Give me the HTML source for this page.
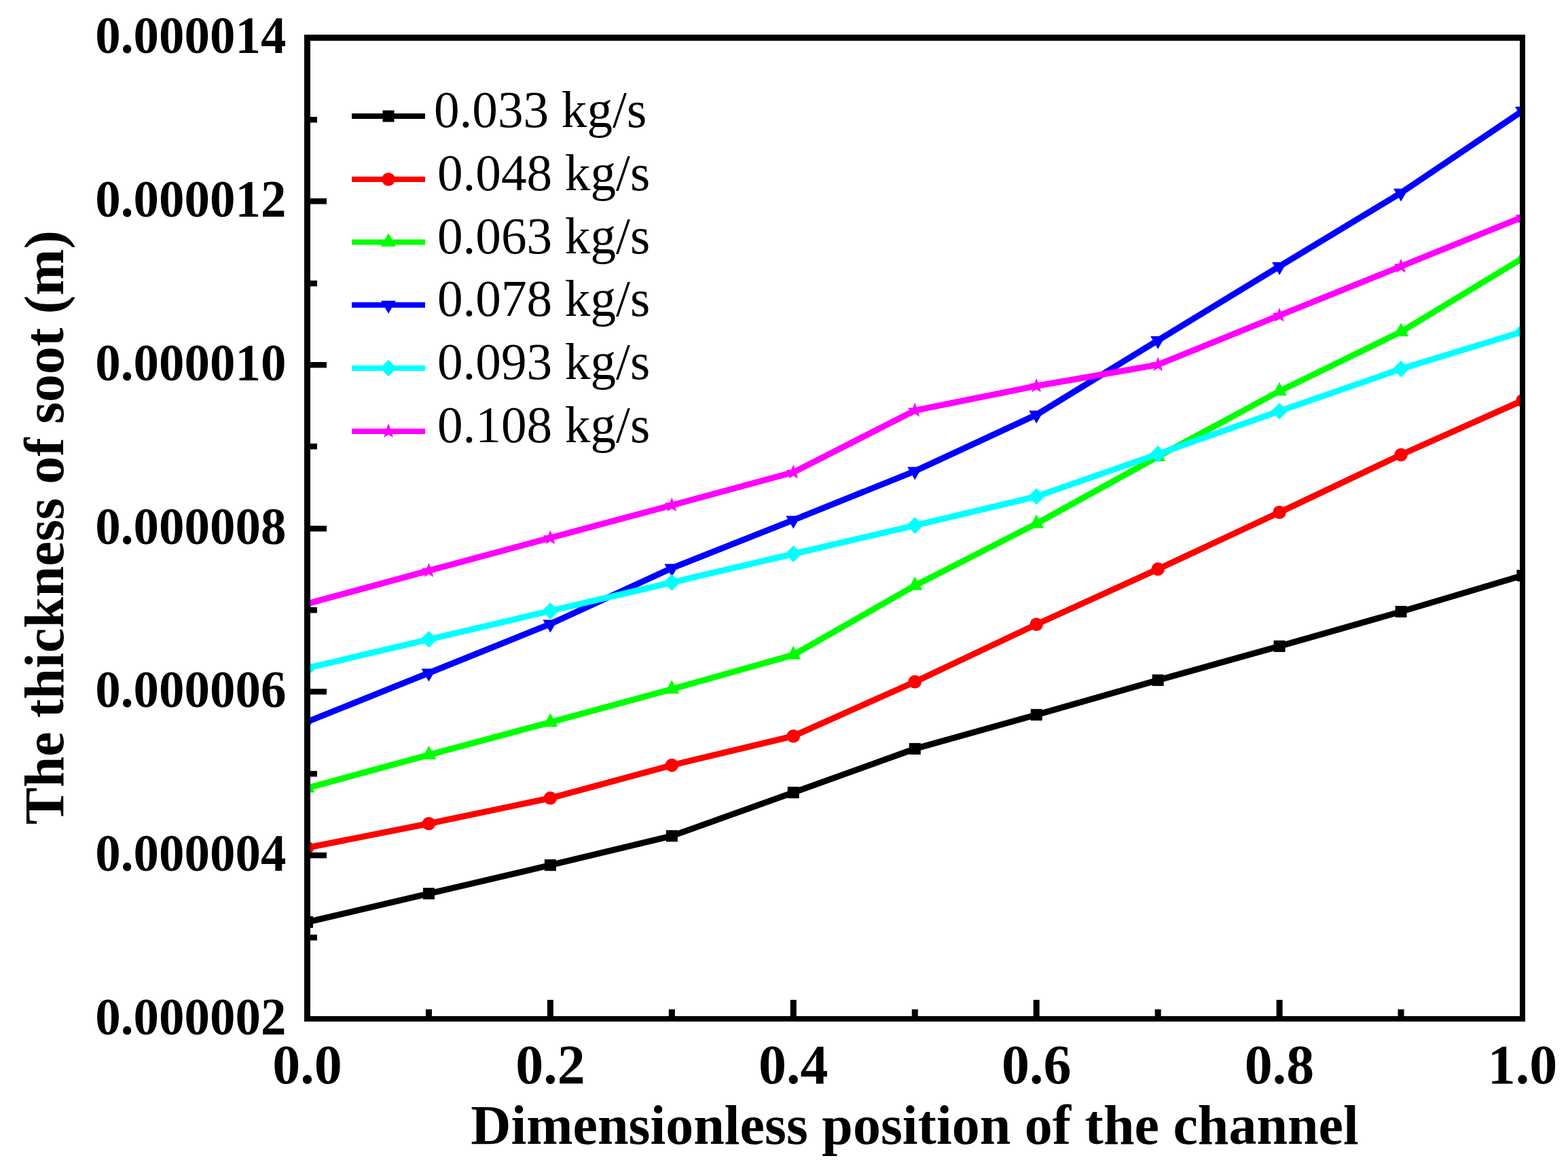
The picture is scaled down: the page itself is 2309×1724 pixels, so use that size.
<!DOCTYPE html>
<html><head><meta charset="utf-8"><style>
html,body{margin:0;padding:0;background:#fff;}
svg{display:block;}
text{font-family:"Liberation Serif","Times New Roman",serif;fill:#000;}
.tl text{font-weight:bold;font-size:75px;}
.xl text{font-weight:bold;font-size:82px;}
.at{font-weight:bold;font-size:82px;}
.lg{font-size:75.2px;}
</style></head><body>
<svg width="2309" height="1724" viewBox="0 0 2309 1724">
<rect width="2309" height="1724" fill="#fff"/>
<defs><clipPath id="pc"><rect x="452.5" y="55.5" width="1789.5" height="1444.5"/></clipPath></defs>
<g clip-path="url(#pc)">
<polyline points="452.50,1357.50 631.45,1315.60 810.40,1273.70 989.35,1230.70 1168.30,1166.80 1347.25,1102.40 1526.20,1052.30 1705.15,1001.40 1884.10,951.40 2063.05,900.50 2242.00,847.40" fill="none" stroke="#000000" stroke-width="9" stroke-linejoin="miter" stroke-miterlimit="3"/>
<rect x="444.00" y="1349.00" width="17.0" height="17.0" fill="#000000"/>
<rect x="622.95" y="1307.10" width="17.0" height="17.0" fill="#000000"/>
<rect x="801.90" y="1265.20" width="17.0" height="17.0" fill="#000000"/>
<rect x="980.85" y="1222.20" width="17.0" height="17.0" fill="#000000"/>
<rect x="1159.80" y="1158.30" width="17.0" height="17.0" fill="#000000"/>
<rect x="1338.75" y="1093.90" width="17.0" height="17.0" fill="#000000"/>
<rect x="1517.70" y="1043.80" width="17.0" height="17.0" fill="#000000"/>
<rect x="1696.65" y="992.90" width="17.0" height="17.0" fill="#000000"/>
<rect x="1875.60" y="942.90" width="17.0" height="17.0" fill="#000000"/>
<rect x="2054.55" y="892.00" width="17.0" height="17.0" fill="#000000"/>
<rect x="2233.50" y="838.90" width="17.0" height="17.0" fill="#000000"/>
<polyline points="452.50,1248.00 631.45,1212.50 810.40,1175.00 989.35,1126.60 1168.30,1083.70 1347.25,1003.80 1526.20,919.30 1705.15,837.90 1884.10,754.30 2063.05,669.50 2242.00,589.70" fill="none" stroke="#FF0000" stroke-width="9" stroke-linejoin="miter" stroke-miterlimit="3"/>
<circle cx="452.50" cy="1248.00" r="9.8" fill="#FF0000"/>
<circle cx="631.45" cy="1212.50" r="9.8" fill="#FF0000"/>
<circle cx="810.40" cy="1175.00" r="9.8" fill="#FF0000"/>
<circle cx="989.35" cy="1126.60" r="9.8" fill="#FF0000"/>
<circle cx="1168.30" cy="1083.70" r="9.8" fill="#FF0000"/>
<circle cx="1347.25" cy="1003.80" r="9.8" fill="#FF0000"/>
<circle cx="1526.20" cy="919.30" r="9.8" fill="#FF0000"/>
<circle cx="1705.15" cy="837.90" r="9.8" fill="#FF0000"/>
<circle cx="1884.10" cy="754.30" r="9.8" fill="#FF0000"/>
<circle cx="2063.05" cy="669.50" r="9.8" fill="#FF0000"/>
<circle cx="2242.00" cy="589.70" r="9.8" fill="#FF0000"/>
<polyline points="452.50,1160.20 631.45,1111.30 810.40,1063.30 989.35,1014.60 1168.30,964.20 1347.25,862.20 1526.20,770.90 1705.15,672.30 1884.10,575.90 2063.05,488.60 2242.00,380.30" fill="none" stroke="#00FF00" stroke-width="9" stroke-linejoin="miter" stroke-miterlimit="3"/>
<polygon points="452.50,1146.80 463.50,1166.80 441.50,1166.80" fill="#00FF00"/>
<polygon points="631.45,1097.90 642.45,1117.90 620.45,1117.90" fill="#00FF00"/>
<polygon points="810.40,1049.90 821.40,1069.90 799.40,1069.90" fill="#00FF00"/>
<polygon points="989.35,1001.20 1000.35,1021.20 978.35,1021.20" fill="#00FF00"/>
<polygon points="1168.30,950.80 1179.30,970.80 1157.30,970.80" fill="#00FF00"/>
<polygon points="1347.25,848.80 1358.25,868.80 1336.25,868.80" fill="#00FF00"/>
<polygon points="1526.20,757.50 1537.20,777.50 1515.20,777.50" fill="#00FF00"/>
<polygon points="1705.15,658.90 1716.15,678.90 1694.15,678.90" fill="#00FF00"/>
<polygon points="1884.10,562.50 1895.10,582.50 1873.10,582.50" fill="#00FF00"/>
<polygon points="2063.05,475.20 2074.05,495.20 2052.05,495.20" fill="#00FF00"/>
<polygon points="2242.00,366.90 2253.00,386.90 2231.00,386.90" fill="#00FF00"/>
<polyline points="452.50,1062.60 631.45,990.70 810.40,918.70 989.35,836.40 1168.30,765.60 1347.25,693.70 1526.20,610.70 1705.15,501.10 1884.10,392.20 2063.05,284.00 2242.00,163.20" fill="none" stroke="#0000FF" stroke-width="9" stroke-linejoin="miter" stroke-miterlimit="3"/>
<polygon points="452.50,1075.40 463.50,1056.40 441.50,1056.40" fill="#0000FF"/>
<polygon points="631.45,1003.50 642.45,984.50 620.45,984.50" fill="#0000FF"/>
<polygon points="810.40,931.50 821.40,912.50 799.40,912.50" fill="#0000FF"/>
<polygon points="989.35,849.20 1000.35,830.20 978.35,830.20" fill="#0000FF"/>
<polygon points="1168.30,778.40 1179.30,759.40 1157.30,759.40" fill="#0000FF"/>
<polygon points="1347.25,706.50 1358.25,687.50 1336.25,687.50" fill="#0000FF"/>
<polygon points="1526.20,623.50 1537.20,604.50 1515.20,604.50" fill="#0000FF"/>
<polygon points="1705.15,513.90 1716.15,494.90 1694.15,494.90" fill="#0000FF"/>
<polygon points="1884.10,405.00 1895.10,386.00 1873.10,386.00" fill="#0000FF"/>
<polygon points="2063.05,296.80 2074.05,277.80 2052.05,277.80" fill="#0000FF"/>
<polygon points="2242.00,176.00 2253.00,157.00 2231.00,157.00" fill="#0000FF"/>
<polyline points="452.50,983.60 631.45,941.30 810.40,899.40 989.35,857.50 1168.30,815.50 1347.25,773.60 1526.20,731.00 1705.15,668.40 1884.10,605.20 2063.05,543.10 2242.00,488.30" fill="none" stroke="#00FFFF" stroke-width="9" stroke-linejoin="miter" stroke-miterlimit="3"/>
<polygon points="452.50,971.30 464.80,983.60 452.50,995.90 440.20,983.60" fill="#00FFFF"/>
<polygon points="631.45,929.00 643.75,941.30 631.45,953.60 619.15,941.30" fill="#00FFFF"/>
<polygon points="810.40,887.10 822.70,899.40 810.40,911.70 798.10,899.40" fill="#00FFFF"/>
<polygon points="989.35,845.20 1001.65,857.50 989.35,869.80 977.05,857.50" fill="#00FFFF"/>
<polygon points="1168.30,803.20 1180.60,815.50 1168.30,827.80 1156.00,815.50" fill="#00FFFF"/>
<polygon points="1347.25,761.30 1359.55,773.60 1347.25,785.90 1334.95,773.60" fill="#00FFFF"/>
<polygon points="1526.20,718.70 1538.50,731.00 1526.20,743.30 1513.90,731.00" fill="#00FFFF"/>
<polygon points="1705.15,656.10 1717.45,668.40 1705.15,680.70 1692.85,668.40" fill="#00FFFF"/>
<polygon points="1884.10,592.90 1896.40,605.20 1884.10,617.50 1871.80,605.20" fill="#00FFFF"/>
<polygon points="2063.05,530.80 2075.35,543.10 2063.05,555.40 2050.75,543.10" fill="#00FFFF"/>
<polygon points="2242.00,476.00 2254.30,488.30 2242.00,500.60 2229.70,488.30" fill="#00FFFF"/>
<polyline points="452.50,888.80 631.45,840.20 810.40,791.90 989.35,743.80 1168.30,695.40 1347.25,604.30 1526.20,568.20 1705.15,537.00 1884.10,464.40 2063.05,392.20 2242.00,319.70" fill="none" stroke="#FF00FF" stroke-width="9" stroke-linejoin="miter" stroke-miterlimit="3"/>
<polygon points="452.50,877.40 455.44,884.75 463.34,885.28 457.26,890.35 459.20,898.02 452.50,893.80 445.80,898.02 447.74,890.35 441.66,885.28 449.56,884.75" fill="#FF00FF"/>
<polygon points="631.45,828.80 634.39,836.15 642.29,836.68 636.21,841.75 638.15,849.42 631.45,845.20 624.75,849.42 626.69,841.75 620.61,836.68 628.51,836.15" fill="#FF00FF"/>
<polygon points="810.40,780.50 813.34,787.85 821.24,788.38 815.16,793.45 817.10,801.12 810.40,796.90 803.70,801.12 805.64,793.45 799.56,788.38 807.46,787.85" fill="#FF00FF"/>
<polygon points="989.35,732.40 992.29,739.75 1000.19,740.28 994.11,745.35 996.05,753.02 989.35,748.80 982.65,753.02 984.59,745.35 978.51,740.28 986.41,739.75" fill="#FF00FF"/>
<polygon points="1168.30,684.00 1171.24,691.35 1179.14,691.88 1173.06,696.95 1175.00,704.62 1168.30,700.40 1161.60,704.62 1163.54,696.95 1157.46,691.88 1165.36,691.35" fill="#FF00FF"/>
<polygon points="1347.25,592.90 1350.19,600.25 1358.09,600.78 1352.01,605.85 1353.95,613.52 1347.25,609.30 1340.55,613.52 1342.49,605.85 1336.41,600.78 1344.31,600.25" fill="#FF00FF"/>
<polygon points="1526.20,556.80 1529.14,564.15 1537.04,564.68 1530.96,569.75 1532.90,577.42 1526.20,573.20 1519.50,577.42 1521.44,569.75 1515.36,564.68 1523.26,564.15" fill="#FF00FF"/>
<polygon points="1705.15,525.60 1708.09,532.95 1715.99,533.48 1709.91,538.55 1711.85,546.22 1705.15,542.00 1698.45,546.22 1700.39,538.55 1694.31,533.48 1702.21,532.95" fill="#FF00FF"/>
<polygon points="1884.10,453.00 1887.04,460.35 1894.94,460.88 1888.86,465.95 1890.80,473.62 1884.10,469.40 1877.40,473.62 1879.34,465.95 1873.26,460.88 1881.16,460.35" fill="#FF00FF"/>
<polygon points="2063.05,380.80 2065.99,388.15 2073.89,388.68 2067.81,393.75 2069.75,401.42 2063.05,397.20 2056.35,401.42 2058.29,393.75 2052.21,388.68 2060.11,388.15" fill="#FF00FF"/>
<polygon points="2242.00,308.30 2244.94,315.65 2252.84,316.18 2246.76,321.25 2248.70,328.92 2242.00,324.70 2235.30,328.92 2237.24,321.25 2231.16,316.18 2239.06,315.65" fill="#FF00FF"/>
</g>
<rect x="448" y="51" width="9" height="1453" fill="#000"/>
<rect x="2238" y="51" width="8" height="1453" fill="#000"/>
<rect x="448" y="51" width="1798" height="9" fill="#000"/>
<rect x="448" y="1496" width="1798" height="8" fill="#000"/>
<rect x="457" y="1376" width="10" height="8.5" fill="#000"/>
<rect x="457" y="1255" width="24" height="8.5" fill="#000"/>
<rect x="457" y="1135" width="10" height="8.5" fill="#000"/>
<rect x="457" y="1014" width="24" height="8.5" fill="#000"/>
<rect x="457" y="894" width="10" height="8.5" fill="#000"/>
<rect x="457" y="774" width="24" height="8.5" fill="#000"/>
<rect x="457" y="653" width="10" height="8.5" fill="#000"/>
<rect x="457" y="533" width="24" height="8.5" fill="#000"/>
<rect x="457" y="413" width="10" height="8.5" fill="#000"/>
<rect x="457" y="292" width="24" height="8.5" fill="#000"/>
<rect x="457" y="172" width="10" height="8.5" fill="#000"/>
<rect x="626.95" y="1486" width="9" height="10" fill="#000"/>
<rect x="805.90" y="1472" width="9" height="24" fill="#000"/>
<rect x="984.85" y="1486" width="9" height="10" fill="#000"/>
<rect x="1163.80" y="1472" width="9" height="24" fill="#000"/>
<rect x="1342.75" y="1486" width="9" height="10" fill="#000"/>
<rect x="1521.70" y="1472" width="9" height="24" fill="#000"/>
<rect x="1700.65" y="1486" width="9" height="10" fill="#000"/>
<rect x="1879.60" y="1472" width="9" height="24" fill="#000"/>
<rect x="2058.55" y="1486" width="9" height="10" fill="#000"/>
<g class="tl"><text transform="translate(421.5,1522.80) scale(1,1.035)" text-anchor="end">0.000002</text><text transform="translate(421.5,1282.05) scale(1,1.035)" text-anchor="end">0.000004</text><text transform="translate(421.5,1041.30) scale(1,1.035)" text-anchor="end">0.000006</text><text transform="translate(421.5,800.55) scale(1,1.035)" text-anchor="end">0.000008</text><text transform="translate(421.5,559.80) scale(1,1.035)" text-anchor="end">0.000010</text><text transform="translate(421.5,319.05) scale(1,1.035)" text-anchor="end">0.000012</text><text transform="translate(421.5,78.30) scale(1,1.035)" text-anchor="end">0.000014</text></g>
<g class="xl"><text transform="translate(452.50,1595) scale(1,1.015)" text-anchor="middle">0.0</text><text transform="translate(810.40,1595) scale(1,1.015)" text-anchor="middle">0.2</text><text transform="translate(1168.30,1595) scale(1,1.015)" text-anchor="middle">0.4</text><text transform="translate(1526.20,1595) scale(1,1.015)" text-anchor="middle">0.6</text><text transform="translate(1884.10,1595) scale(1,1.015)" text-anchor="middle">0.8</text><text transform="translate(2242.00,1595) scale(1,1.015)" text-anchor="middle">1.0</text></g>
<text class="at" x="1347" y="1684.3" text-anchor="middle">Dimensionless position of the channel</text>
<text class="at" transform="translate(93,776.6) rotate(-90)" x="0" y="0" text-anchor="middle">The thickness of soot (m)</text>
<rect x="518" y="167.00" width="108" height="8" fill="#000000"/>
<rect x="563.50" y="162.50" width="17.0" height="17.0" fill="#000000"/>
<text class="lg" transform="translate(638.9,187.30) scale(1,1.02)">0.033 kg/s</text>
<rect x="518" y="260.00" width="108" height="8" fill="#FF0000"/>
<circle cx="572.00" cy="264.00" r="9.8" fill="#FF0000"/>
<text class="lg" transform="translate(643.9,280.30) scale(1,1.02)">0.048 kg/s</text>
<rect x="518" y="352.50" width="108" height="8" fill="#00FF00"/>
<polygon points="572.00,343.10 583.00,363.10 561.00,363.10" fill="#00FF00"/>
<text class="lg" transform="translate(643.9,372.80) scale(1,1.02)">0.063 kg/s</text>
<rect x="518" y="445.00" width="108" height="8" fill="#0000FF"/>
<polygon points="572.00,461.80 583.00,442.80 561.00,442.80" fill="#0000FF"/>
<text class="lg" transform="translate(643.9,465.30) scale(1,1.02)">0.078 kg/s</text>
<rect x="518" y="538.00" width="108" height="8" fill="#00FFFF"/>
<polygon points="572.00,529.70 584.30,542.00 572.00,554.30 559.70,542.00" fill="#00FFFF"/>
<text class="lg" transform="translate(643.9,558.30) scale(1,1.02)">0.093 kg/s</text>
<rect x="518" y="631.00" width="108" height="8" fill="#FF00FF"/>
<polygon points="572.00,623.60 574.94,630.95 582.84,631.48 576.76,636.55 578.70,644.22 572.00,640.00 565.30,644.22 567.24,636.55 561.16,631.48 569.06,630.95" fill="#FF00FF"/>
<text class="lg" transform="translate(643.9,651.30) scale(1,1.02)">0.108 kg/s</text>
</svg>
</body></html>
